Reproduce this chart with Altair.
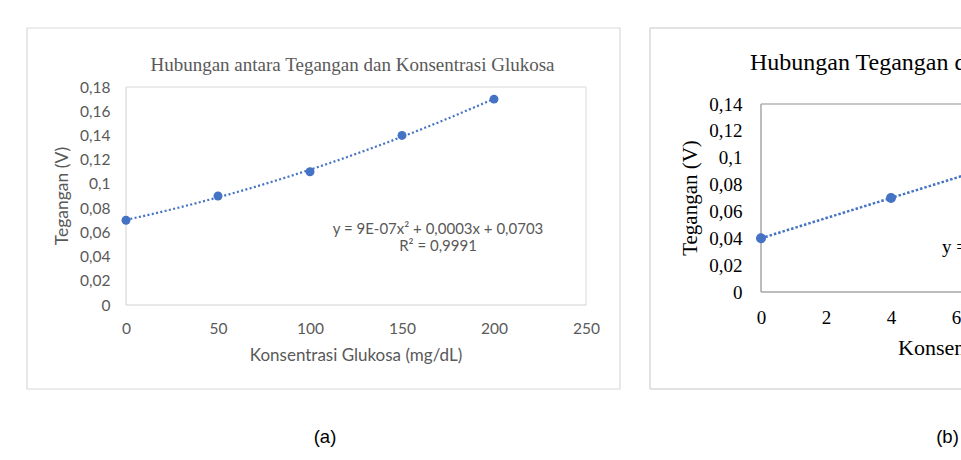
import altair as alt
import pandas as pd

# ---- panel (a): voltage against glucose concentration -------------------
GLUKOSA_A = [0, 50, 100, 150, 200]
TEGANGAN_A = [0.07, 0.09, 0.11, 0.14, 0.17]
X_TICKS_A = [0, 50, 100, 150, 200, 250]
Y_TICKS_A = [0, 0.02, 0.04, 0.06, 0.08, 0.1, 0.12, 0.14, 0.16, 0.18]
TITLE_A = "Hubungan antara Tegangan dan Konsentrasi Glukosa"
X_TITLE_A = "Konsentrasi Glukosa (mg/dL)"
EQUATION_A = "y = 9E-07x² + 0,0003x + 0,0703"
R2_A = "R² = 0,9991"
CAPTION_A = "(a)"

# ---- panel (b) ---------------------------------------------------------
X_B = [0, 4]
TEGANGAN_B = [0.04, 0.07]
X_TICKS_B = [0, 2, 4, 6]
Y_TICKS_B = [0, 0.02, 0.04, 0.06, 0.08, 0.1, 0.12, 0.14]
TITLE_B = "Hubungan Tegangan dan Konsentrasi Glukosa"
X_TITLE_B = "Konsentrasi Glukosa (mg/dL)"
EQUATION_B = "y = 0,0075x + 0,04"
CAPTION_B = "(b)"

Y_TITLE = "Tegangan (V)"

BLUE = "#4472C4"
GRAY_TEXT = "#595959"
SANS = "Lato"
SERIF = "Liberation Serif"
ARIAL = "Liberation Sans"
COMMA = "replace(format(datum.value, '.2~f'), '.', ',')"
PAGE_H = 460

one = pd.DataFrame({"k": [0]})


def text_at(x, y, txt, **style):
    return alt.Chart(one).mark_text(baseline="alphabetic", **style).encode(
        x=alt.value(x), y=alt.value(y), text=alt.value(txt)
    )


def box(x1, x2, y1, y2, **style):
    return alt.Chart(one).mark_rect(**style).encode(
        x=alt.value(x1), x2=alt.value(x2), y=alt.value(y1), y2=alt.value(y2)
    )


def hline(x1, x2, y, **style):
    return alt.Chart(one).mark_rule(**style).encode(
        x=alt.value(x1), x2=alt.value(x2), y=alt.value(y)
    )


def vline(x, y1, y2, **style):
    return alt.Chart(one).mark_rule(**style).encode(
        x=alt.value(x), y=alt.value(y1), y2=alt.value(y2)
    )


def data_rule(color, width, x, y, x2=None, y2=None):
    enc = {"x": alt.datum(x), "y": alt.datum(y)}
    if x2 is not None:
        enc["x2"] = alt.datum(x2)
    if y2 is not None:
        enc["y2"] = alt.datum(y2)
    return alt.Chart(one).mark_rule(color=color, strokeWidth=width, clip=True).encode(**enc)


def strip_scales(width, ox, oy, px_x, px_y):
    """Domains that put the data origin at (ox, oy) inside a full-height strip."""
    xdom = [-ox / px_x, (width - ox) / px_x]
    ydom = [-(PAGE_H - oy) / px_y, oy / px_y]
    return xdom, ydom


# ---------------- panel (a) ----------------
# Each panel's view covers its whole strip of the page; the scales place the
# plot area inside it and the axes are pulled in to the plot edges.
A_W = 635
A_OX, A_OY = 126, 305
a_xdom, a_ydom = strip_scales(A_W, A_OX, A_OY, 460 / 250, 218 / 0.18)

df_a = pd.DataFrame({"x": GLUKOSA_A, "y": TEGANGAN_A})

xa = alt.X(
    "x:Q",
    scale=alt.Scale(domain=a_xdom, nice=False, zero=False),
    axis=alt.Axis(
        values=X_TICKS_A, title=None, grid=False, ticks=False, tickSize=0, domain=False,
        offset=-(PAGE_H - A_OY),
        labelPadding=16, labelFont=SANS, labelFontSize=15.5, labelColor=GRAY_TEXT,
    ),
)
ya = alt.Y(
    "y:Q",
    scale=alt.Scale(domain=a_ydom, nice=False, zero=False),
    axis=alt.Axis(
        values=Y_TICKS_A, labelExpr=COMMA, title=None, grid=False, ticks=False, tickSize=0,
        domain=False, offset=-A_OX,
        labelPadding=16, labelFont=SANS, labelFontSize=15.5, labelColor=GRAY_TEXT,
    ),
)

trend_a = alt.Chart(df_a).transform_regression(
    "x", "y", method="poly", order=2, extent=[0, 200]
).mark_line(color=BLUE, strokeWidth=2.2, strokeDash=[2, 2.4]).encode(x=xa, y=ya)
points_a = alt.Chart(df_a).mark_circle(size=80, color=BLUE, opacity=1).encode(x=xa, y=ya)

BORDER_A = "#d9d9d9"
panel_a = alt.layer(
    box(27, 620, 28, 389, fill="transparent", stroke="#d9d9d9", strokeWidth=1.2),
    data_rule(BORDER_A, 1, 0, 0.18, x2=250),
    data_rule(BORDER_A, 1, 250, 0, y2=0.18),
    data_rule("#d0d0d0", 1, 0, 0, y2=0.18),
    data_rule("#d0d0d0", 1, 0, 0, x2=250),
    text_at(352.5, 71, TITLE_A, font=SERIF, fontSize=19, color=GRAY_TEXT, align="center"),
    text_at(67.5, 196, Y_TITLE, font=SANS, fontSize=17.5, color=GRAY_TEXT, align="center", angle=270),
    text_at(356, 361, X_TITLE_A, font=SANS, fontSize=17, color=GRAY_TEXT, align="center"),
    trend_a,
    points_a,
    text_at(438, 234, EQUATION_A, font=SANS, fontSize=15, color=GRAY_TEXT, align="center"),
    text_at(438, 251, R2_A, font=SANS, fontSize=15, color=GRAY_TEXT, align="center"),
    text_at(325, 443, CAPTION_A, font=ARIAL, fontSize=18.5, color="black", align="center"),
).properties(
    width=A_W, height=PAGE_H,
    view=alt.ViewBackground(stroke="transparent", strokeWidth=0),
)

# ---------------- panel (b) ----------------
# This panel runs off the right edge of the page.
B_W = 326
B_OX, B_OY = 126, 292
b_xdom, b_ydom = strip_scales(B_W, B_OX, B_OY, 32.5, 188 / 0.14)

df_b = pd.DataFrame({"x": X_B, "y": TEGANGAN_B})

xb = alt.X(
    "x:Q",
    scale=alt.Scale(domain=b_xdom, nice=False, zero=False),
    axis=alt.Axis(
        values=X_TICKS_B, title=None, grid=False, ticks=False, tickSize=0, domain=False,
        offset=-(PAGE_H - B_OY),
        labelPadding=16.5, labelFont=SERIF, labelFontSize=19, labelColor="black",
    ),
)
yb = alt.Y(
    "y:Q",
    scale=alt.Scale(domain=b_ydom, nice=False, zero=False),
    axis=alt.Axis(
        values=Y_TICKS_B, labelExpr=COMMA, title=None, grid=False, ticks=False, tickSize=0,
        domain=False, offset=-B_OX,
        labelPadding=19, labelFont=SERIF, labelFontSize=19, labelColor="black",
    ),
)

trend_b = alt.Chart(df_b).transform_regression(
    "x", "y", method="linear", extent=[0, 7]
).mark_line(color=BLUE, strokeWidth=2.5, strokeDash=[2.5, 2], clip=True).encode(x=xb, y=yb)
points_b = alt.Chart(df_b).mark_circle(size=100, color=BLUE, opacity=1, clip=True).encode(x=xb, y=yb)

AX_B = "#a6a6a6"
FRAME_B = dict(color="#d9d9d9", strokeWidth=1.5, clip=True)
panel_b = alt.layer(
    vline(15, 28, 389, **FRAME_B),
    hline(15, B_W, 28, **FRAME_B),
    hline(15, B_W, 389, **FRAME_B),
    data_rule("#b4b4b4", 1.5, 0, 0.14, x2=7),
    data_rule(AX_B, 1.5, 0, 0, y2=0.14),
    data_rule(AX_B, 1.5, 0, 0, x2=7),
    trend_b,
    points_b,
    text_at(115, 70, TITLE_B, font=SERIF, fontSize=24, color="black", align="left", clip=True),
    text_at(61.5, 198, Y_TITLE, font=SERIF, fontSize=21, color="black", align="center", angle=270),
    text_at(263, 355, X_TITLE_B, font=SERIF, fontSize=22, color="black", align="left", clip=True),
    text_at(307, 253, EQUATION_B, font=SERIF, fontSize=19, color="black", align="left", clip=True),
    text_at(312.5, 443, CAPTION_B, font=ARIAL, fontSize=18.5, color="black", align="center", clip=True),
).properties(
    width=B_W, height=PAGE_H,
    view=alt.ViewBackground(stroke="transparent", strokeWidth=0),
)

chart = alt.hconcat(panel_a, panel_b, spacing=0).properties(
    padding=0,
    background="white",
)

chart.save("out.html", embed_options={"renderer": "svg", "actions": False})
